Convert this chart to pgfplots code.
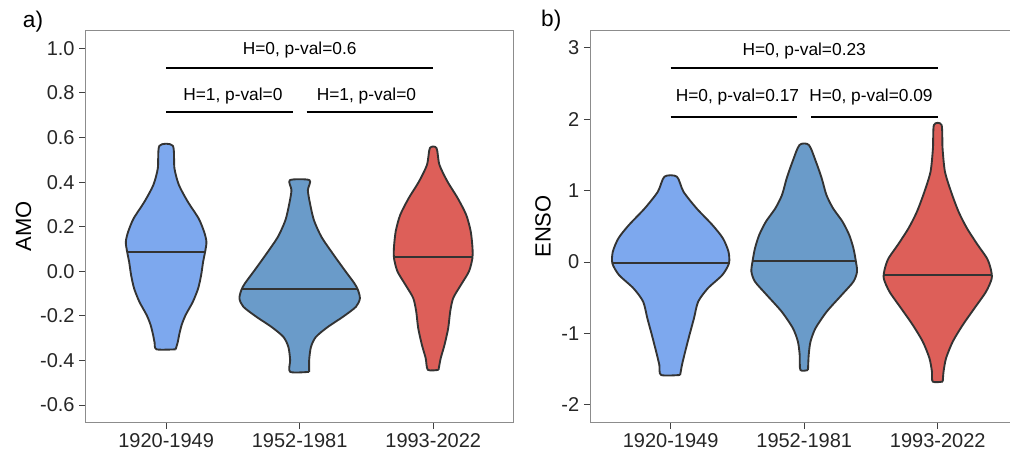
\documentclass[border=0pt]{standalone}
\usepackage{pgfplots}
\pgfplotsset{compat=1.18}
\usepackage{pgfplotstable}
\usepackage{fontspec}
\setmainfont{Liberation Sans}
\definecolor{vblue}{HTML}{7DA8EE}
\definecolor{vsteel}{HTML}{6A9BC9}
\definecolor{vred}{HTML}{DD5F59}
\definecolor{vline}{HTML}{333333}
\definecolor{frameg}{HTML}{8C8C8C}

% violin outlines: y value, signed half-width in pixels (133.5 px = 1 category unit)
\pgfplotstableread{
y w
-0.350 9.5
-0.320 11.5
-0.286 13
-0.241 15.5
-0.196 19.5
-0.137 26.7
-0.077 32
-0.017 35
0.043 37
0.088 39
0.132 40.3
0.177 38
0.237 32.5
0.312 21.7
0.387 12.8
0.462 8.3
0.563 6.7
0.563 -6.7
0.462 -8.3
0.387 -12.8
0.312 -21.7
0.237 -32.5
0.177 -38
0.132 -40.3
0.088 -39
0.043 -37
-0.017 -35
-0.077 -32
-0.137 -26.7
-0.196 -19.5
-0.241 -15.5
-0.286 -13
-0.320 -11.5
-0.350 -9.5
-0.350 9.5
}\aone
\pgfplotstableread{
y w
-0.451 9.5
-0.398 9.5
-0.339 11.3
-0.294 16.3
-0.249 28.3
-0.204 43.3
-0.159 56.3
-0.122 60.2
-0.084 58.3
-0.054 54.7
0.005 45
0.080 33
0.155 21.7
0.230 14.2
0.305 10.3
0.364 8.2
0.409 9.8
0.409 -9.8
0.364 -8.2
0.305 -10.3
0.230 -14.2
0.155 -21.7
0.080 -33
0.005 -45
-0.054 -54.7
-0.084 -58.3
-0.122 -60.2
-0.159 -56.3
-0.204 -43.3
-0.249 -28.3
-0.294 -16.3
-0.339 -11.3
-0.398 -9.5
-0.451 -9.5
-0.451 9.5
}\atwo
\pgfplotstableread{
y w
-0.442 5.3
-0.390 7.5
-0.330 11.3
-0.255 15
-0.180 17
-0.120 20
-0.061 27.7
0.000 35.8
0.059 39.2
0.104 39.3
0.179 37.5
0.253 33
0.328 24.5
0.403 14.2
0.478 6.2
0.553 3.3
0.553 -3.3
0.478 -6.2
0.403 -14.2
0.328 -24.5
0.253 -33
0.179 -37.5
0.104 -39.3
0.059 -39.2
0.000 -35.8
-0.061 -27.7
-0.120 -20
-0.180 -17
-0.255 -15
-0.330 -11.3
-0.390 -7.5
-0.442 -5.3
-0.442 5.3
}\athree
\pgfplotstableread{
y w
-1.580 9.5
-1.440 11.3
-1.254 14.5
-1.020 18.8
-0.787 23.3
-0.554 27.5
-0.367 37.2
-0.180 51.7
-0.017 58.3
0.146 57.8
0.333 52.2
0.519 41.7
0.753 25.8
0.985 12.8
1.195 6.2
1.195 -6.2
0.985 -12.8
0.753 -25.8
0.519 -41.7
0.333 -52.2
0.146 -57.8
-0.017 -58.3
-0.180 -51.7
-0.367 -37.2
-0.554 -27.5
-0.787 -23.3
-1.020 -18.8
-1.254 -14.5
-1.440 -11.3
-1.580 -9.5
-1.580 9.5
}\bone
\pgfplotstableread{
y w
-1.510 3.8
-1.300 4.5
-1.113 6.3
-0.926 11.3
-0.694 22.5
-0.460 37.5
-0.274 49.2
-0.134 52.8
0.006 51.7
0.193 49.2
0.379 45
0.565 38.3
0.753 28.8
0.939 22.2
1.172 17.5
1.405 11.7
1.638 4.7
1.638 -4.7
1.405 -11.7
1.172 -17.5
0.939 -22.2
0.753 -28.8
0.565 -38.3
0.379 -45
0.193 -49.2
0.006 -51.7
-0.134 -52.8
-0.274 -49.2
-0.460 -37.5
-0.694 -22.5
-0.926 -11.3
-1.113 -6.3
-1.300 -4.5
-1.510 -3.8
-1.510 3.8
}\btwo
\pgfplotstableread{
y w
-1.673 5
-1.533 5.8
-1.346 8.3
-1.113 15
-0.880 25
-0.646 36.7
-0.414 48.3
-0.227 54
-0.087 52.8
0.053 49.2
0.239 40
0.473 29.2
0.705 20.8
0.985 13.3
1.265 7.2
1.592 4.8
1.918 3.8
1.918 -3.8
1.592 -4.8
1.265 -7.2
0.985 -13.3
0.705 -20.8
0.473 -29.2
0.239 -40
0.053 -49.2
-0.087 -52.8
-0.227 -54
-0.414 -48.3
-0.646 -36.7
-0.880 -25
-1.113 -15
-1.346 -8.3
-1.533 -5.8
-1.673 -5
-1.673 5
}\bthree

\tikzset{
 ann/.style={font=\fontsize{13}{15}\selectfont},
 plab/.style={font=\fontsize{17}{20}\selectfont},
}
\pgfplotsset{
 vstyle/.style={
   scale only axis, width=320.5pt, height=293.25pt,
   xmin=0.4, xmax=3.6,
   xtick={1,2,3}, xticklabels={1920-1949,1952-1981,1993-2022},
   axis line style={frameg, line width=0.75pt},
   tick align=outside, major tick length=5pt,
   tick style={black!75, line width=0.75pt},
   xtick pos=bottom, ytick pos=left,
   ticklabel style={font=\fontsize{15}{18}\selectfont, text=black!85},
   label style={font=\fontsize{16.5}{20}\selectfont},
   clip=false,
 },
 violin/.style={draw=vline, line width=1.4pt, line join=round, smooth, tension=0.45},
 med/.style={vline, line width=1.5pt},
 brk/.style={black, line width=1.6pt},
}

\begin{document}
\begin{tikzpicture}
\path[use as bounding box] (0,0) rectangle (757.5pt,340.5pt);
\clip (0,0) rectangle (757.5pt,340.5pt);
\begin{axis}[vstyle, at={(64.5pt,24pt)}, anchor=south west,
  ymin=-0.676, ymax=1.078,
  ytick={-0.6,-0.4,-0.2,0,0.2,0.4,0.6,0.8,1.0},
  yticklabels={-0.6,-0.4,-0.2,0.0,0.2,0.4,0.6,0.8,1.0},
  ylabel={AMO}, ylabel style={at={(axis description cs:-0.146,0.5)}, anchor=center}]
\addplot[violin, fill=vblue] table[x expr=1+\thisrow{w}/133.5, y=y]{\aone};
\addplot[violin, fill=vsteel] table[x expr=2+\thisrow{w}/133.5, y=y]{\atwo};
\addplot[violin, fill=vred] table[x expr=3+\thisrow{w}/133.5, y=y]{\athree};
\addplot[med] coordinates {(0.708,0.088)(1.292,0.088)};
\addplot[med] coordinates {(1.562,-0.078)(2.438,-0.078)};
\addplot[med] coordinates {(2.706,0.062)(3.294,0.062)};
\addplot[brk] coordinates {(1,0.913)(3,0.913)};
\addplot[brk] coordinates {(1,0.713)(1.948,0.713)};
\addplot[brk] coordinates {(2.052,0.713)(3,0.713)};
\node[ann] at (axis cs:2,0.992) {H=0, p-val=0.6};
\node[ann] at (axis cs:1.5,0.787) {H=1, p-val=0};
\node[ann] at (axis cs:2.5,0.787) {H=1, p-val=0};
\node[plab] at (axis description cs:-0.124,1.023) {a)};
\end{axis}
\begin{axis}[vstyle, at={(442.9pt,24pt)}, anchor=south west,
  ymin=-2.238, ymax=3.233,
  ytick={-2,-1,0,1,2,3},
  yticklabels={-2,-1,0,1,2,3},
  ylabel={ENSO}, ylabel style={at={(axis description cs:-0.111,0.5)}, anchor=center}]
\addplot[violin, fill=vblue] table[x expr=1+\thisrow{w}/133.5, y=y]{\bone};
\addplot[violin, fill=vsteel] table[x expr=2+\thisrow{w}/133.5, y=y]{\btwo};
\addplot[violin, fill=vred] table[x expr=3+\thisrow{w}/133.5, y=y]{\bthree};
\addplot[med] coordinates {(0.563,-0.017)(1.437,-0.017)};
\addplot[med] coordinates {(1.613,0.013)(2.387,0.013)};
\addplot[med] coordinates {(2.597,-0.18)(3.403,-0.18)};
\addplot[brk] coordinates {(1,2.72)(3,2.72)};
\addplot[brk] coordinates {(1,2.03)(1.948,2.03)};
\addplot[brk] coordinates {(2.052,2.03)(3,2.03)};
\node[ann] at (axis cs:2,2.954) {H=0, p-val=0.23};
\node[ann] at (axis cs:1.5,2.306) {H=0, p-val=0.17};
\node[ann] at (axis cs:2.5,2.306) {H=0, p-val=0.09};
\node[plab] at (axis description cs:-0.092,1.026) {b)};
\end{axis}
\end{tikzpicture}
\end{document}
